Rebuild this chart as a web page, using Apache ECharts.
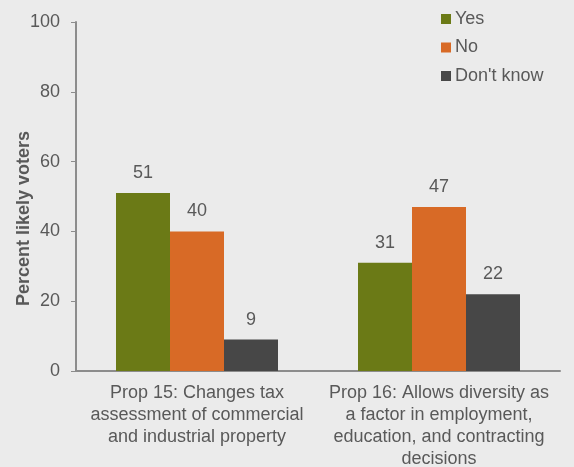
<!DOCTYPE html>
<html>
<head>
<meta charset="utf-8">
<script src="https://cdn.jsdelivr.net/npm/echarts@6/dist/echarts.min.js"></script>
<style>
    html, body { margin: 0; padding: 0; background: #ebebeb; }
    #main { width: 574px; height: 467px; }
</style>
</head>
<body>
<div id="main"></div>
<script>
    var categories = [
        'Prop 15: Changes tax\nassessment of commercial\nand industrial property',
        'Prop 16: Allows diversity as\na factor in employment,\neducation, and contracting\ndecisions'
    ]
    var yesData = [51, 31]
    var noData = [40, 47]
    var dontKnowData = [9, 22]
    var yTicks = [0, 20, 40, 60, 80, 100]

    var textColor = '#595959'
    var axisColor = '#8c8c8c'
    var font = 'Liberation Sans, Arial, sans-serif'

    var myChart = echarts.init(document.getElementById('main'))
    var barLabel = {
        show: true,
        position: 'top',
        distance: 11,
        color: textColor,
        fontSize: 18,
        fontFamily: font
    }
    var option = {
        backgroundColor: '#ebebeb',
        color: ['#6b7a16', '#d86a26', '#474747'],
        legend: {
            orient: 'vertical',
            left: 436,
            top: 5,
            itemWidth: 10,
            itemHeight: 10,
            itemGap: 10.5,
            icon: 'rect',
            textStyle: { color: textColor, fontSize: 18, lineHeight: 18, fontFamily: font, padding: [0, 0, 0, -1] },
            data: ['Yes', 'No', "Don't know"]
        },
        grid: {
            left: 76,
            right: 14,
            top: 22,
            bottom: 96,
            containLabel: false,
            outerBoundsMode: 'none'
        },
        xAxis: {
            type: 'category',
            data: categories,
            axisLine: { lineStyle: { color: axisColor, width: 2 } },
            axisTick: { length: 5, lineStyle: { color: axisColor } },
            axisLabel: {
                color: textColor,
                fontSize: 18,
                fontFamily: font,
                lineHeight: 22,
                margin: 11,
                interval: 0
            }
        },
        yAxis: {
            type: 'value',
            min: yTicks[0],
            max: yTicks[yTicks.length - 1],
            interval: 20,
            name: 'Percent likely voters',
            nameLocation: 'middle',
            nameGap: 43,
            nameMoveOverlap: false,
            nameTextStyle: {
                color: textColor,
                fontSize: 18,
                fontWeight: 'bold',
                fontFamily: font,
                padding: [0, 44, 0, 0]
            },
            splitLine: { show: false },
            axisLine: { show: true, lineStyle: { color: axisColor, width: 2 } },
            axisTick: { show: true, length: 5, lineStyle: { color: axisColor } },
            axisLabel: { color: textColor, fontSize: 18, fontFamily: font, margin: 16 }
        },
        series: [
            { name: 'Yes', type: 'bar', data: yesData, barWidth: 54, barGap: '0%', label: barLabel },
            { name: 'No', type: 'bar', data: noData, barWidth: 54, barGap: '0%', label: barLabel },
            { name: "Don't know", type: 'bar', data: dontKnowData, barWidth: 54, barGap: '0%', label: barLabel }
        ]
    }
    myChart.setOption(option)
</script>
</body>
</html>
